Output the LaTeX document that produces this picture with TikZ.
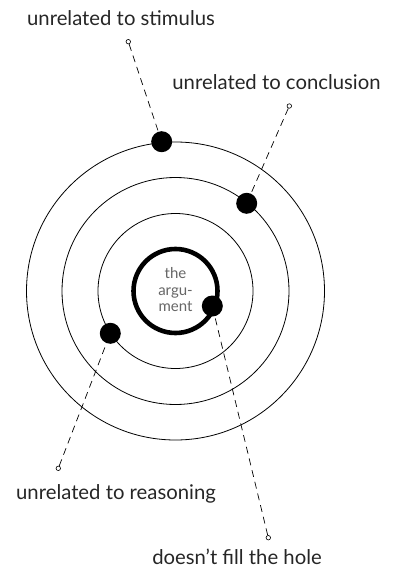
\documentclass[tikz,border=0pt]{standalone}
\usepackage{fontspec}
\setmainfont{Lato}
\begin{document}
\begin{tikzpicture}[x=1pt,y=-1pt,
  orbit/.style={line width=0.8pt},
  core/.style={line width=4.6pt},
  planet/.style={circle,fill=black,minimum size=21pt,inner sep=0pt},
  pin/.style={circle,draw,fill=white,line width=0.6pt,minimum size=4.5pt,inner sep=0pt},
  leader/.style={line width=0.7pt,dash pattern=on 7pt off 5pt},
  tag/.style={font=\fontsize{20.3}{24}\selectfont,text=black!85,inner sep=0pt,anchor=base}]
\useasboundingbox (0,0) rectangle (394,569);

% the rings
\coordinate (c) at (175.5,291);
\draw[orbit] (c) circle[radius=149pt];
\draw[orbit] (c) circle[radius=113.5pt];
\draw[orbit] (c) circle[radius=77.5pt];
\draw[core] (c) circle[radius=42pt];
\node[align=center,text=black!60,font=\fontsize{15}{16.5}\selectfont] (arg) at (175.5,290) {the\\argu-\\ment};

% labels
\node[tag] (stim) at (121,26) {unrelated to stimulus};
\node[tag] (concl) at (276.5,89.3) {unrelated to conclusion};
\node[tag] (reas) at (116,499.3) {unrelated to reasoning};
\node[tag] (hole) at (237,564.5) {doesn’t fill the hole};

% pins
\node[pin] (p1) at (128.3,41.7) {};
\node[pin] (p2) at (289.3,106) {};
\node[pin] (p3) at (58.3,468.3) {};
\node[pin] (p4) at (268.3,537.7) {};

% dots
\coordinate (d1) at (161.7,141.7);
\coordinate (d2) at (246.7,203.3);
\coordinate (d3) at (110.3,333.3);
\coordinate (d4) at (212.3,306);

\draw[leader] (p1) -- (d1);
\draw[leader] (p2) -- (d2);
\draw[leader] (p3) -- (d3);
\draw[leader] (p4) -- (d4);

\node[planet] at (d1) {};
\node[planet] at (d2) {};
\node[planet] at (d3) {};
\node[planet] at (d4) {};
\end{tikzpicture}
\end{document}
